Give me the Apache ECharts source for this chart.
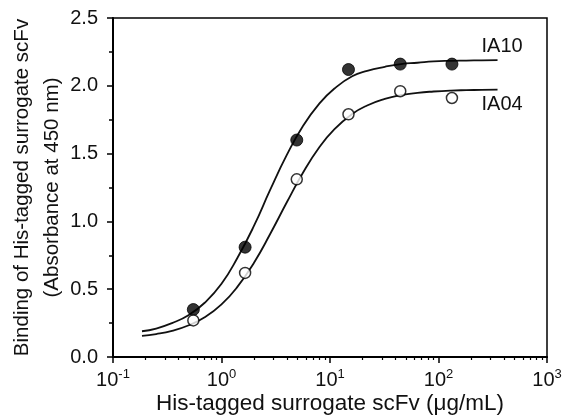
<!DOCTYPE html>
<html>
<head>
<meta charset="utf-8">
<script src="https://cdn.jsdelivr.net/npm/echarts@6/dist/echarts.min.js"></script>
<style>html,body{margin:0;padding:0;background:#fff}#c{width:571px;height:416px}</style>
</head>
<body>
<div id="c"></div>
<script>
// Measured points
const doseX = [0.55, 1.65, 4.94, 14.8, 44.4, 133];
const ia10Values = [0.35, 0.81, 1.60, 2.12, 2.16, 2.16];
const ia04Values = [0.27, 0.62, 1.31, 1.79, 1.96, 1.91];
// Fitted curves
const curveX = [0.185, 0.25, 0.35, 0.5, 0.7, 1.0, 1.4, 2.0, 2.8, 4.0, 5.6, 8, 11, 16, 22, 32, 45, 64, 90, 130, 180, 250, 350];
const ia10Curve = [0.19, 0.21, 0.25, 0.31, 0.40, 0.54, 0.73, 0.97, 1.23, 1.49, 1.70, 1.87, 1.98, 2.07, 2.11, 2.14, 2.16, 2.17, 2.18, 2.184, 2.186, 2.188, 2.19];
const ia04Curve = [0.156, 0.169, 0.193, 0.234, 0.293, 0.388, 0.517, 0.697, 0.905, 1.141, 1.355, 1.548, 1.680, 1.792, 1.855, 1.903, 1.931, 1.948, 1.958, 1.965, 1.968, 1.970, 1.972];
// Axis ticks
const xMajor = [0.1, 1, 10, 100, 1000];
const xMinor = [0.2,0.3,0.4,0.5,0.6,0.7,0.8,0.9, 2,3,4,5,6,7,8,9, 20,30,40,50,60,70,80,90, 200,300,400,500,600,700,800,900];
const seriesNames = ['IA10', 'IA04'];

const FONT = 'Liberation Sans, Arial, sans-serif';
const pair = (xs, ys) => xs.map((x, i) => [x, ys[i]]);
const expLabel = v => {
  const e = Math.round(Math.log10(v));
  return '{b|10}{s|' + e + '}';
};

const chart = echarts.init(document.getElementById('c'), null, {renderer: 'canvas'});
chart.setOption({
  animation: false,
  backgroundColor: '#fff',
  grid: {left: 113, right: 24, top: 18, bottom: 59, containLabel: false, outerBoundsMode: 'none',
    show: true, borderColor: '#000', borderWidth: 1.5, backgroundColor: 'transparent'},
  xAxis: [{
    type: 'log', logBase: 10, min: 0.1, max: 1000,
    name: 'His-tagged surrogate scFv (μg/mL)', nameLocation: 'middle', nameGap: 35, nameMoveOverlap: false,
    nameTextStyle: {fontFamily: FONT, fontSize: 22.5, color: '#111'},
    axisLine: {lineStyle: {color: '#000', width: 2}},
    axisTick: {show: true, length: 6, inside: false, lineStyle: {color: '#000', width: 1.5}, customValues: xMajor},
    axisLabel: {
      customValues: xMajor, formatter: expLabel, margin: 11, color: '#111',
      rich: {b: {fontFamily: FONT, fontSize: 20, color: '#111'}, s: {fontFamily: FONT, fontSize: 13, color: '#111', verticalAlign: 'bottom', padding: [0, 0, 11, 0]}}
    },
    splitLine: {show: false}
  }, {
    type: 'log', logBase: 10, min: 0.1, max: 1000, position: 'bottom',
    axisLine: {show: false},
    axisTick: {show: true, length: 3, lineStyle: {color: '#000', width: 1.2}, customValues: xMinor},
    axisLabel: {show: false},
    splitLine: {show: false}
  }],
  yAxis: {
    type: 'value', min: 0, max: 2.5, interval: 0.5,
    name: 'Binding of His-tagged surrogate scFv\n(Absorbance at 450 nm)', nameLocation: 'middle', nameGap: 46, nameRotate: 90, nameMoveOverlap: false,
    nameTextStyle: {fontFamily: FONT, fontSize: 20.5, color: '#111', lineHeight: 30},
    axisLine: {show: true, lineStyle: {color: '#000', width: 2}},
    axisTick: {show: true, length: 6, lineStyle: {color: '#000', width: 1.5}},
    minorTick: {show: true, splitNumber: 2, length: 4, lineStyle: {color: '#000', width: 1.5}},
    axisLabel: {fontFamily: FONT, fontSize: 20, color: '#111', margin: 15, formatter: v => v.toFixed(1)},
    splitLine: {show: false}
  },
  series: [{
    name: seriesNames[0] + ' fit', type: 'line', xAxisIndex: 0, data: pair(curveX, ia10Curve), smooth: true, showSymbol: false,
    lineStyle: {color: '#111', width: 1.8},
    endLabel: {show: true, formatter: seriesNames[0], fontFamily: FONT, fontSize: 20, color: '#111', offset: [-24, -14]}
  }, {
    name: seriesNames[1] + ' fit', type: 'line', xAxisIndex: 0, data: pair(curveX, ia04Curve), smooth: true, showSymbol: false,
    lineStyle: {color: '#111', width: 1.8},
    endLabel: {show: true, formatter: seriesNames[1], fontFamily: FONT, fontSize: 20, color: '#111', offset: [-24, 15]}
  }, {
    name: seriesNames[0], type: 'scatter', xAxisIndex: 0, data: pair(doseX, ia10Values), symbol: 'circle', symbolSize: 12,
    itemStyle: {color: '#000', borderColor: '#000', borderWidth: 1}, z: 5
  }, {
    name: seriesNames[1], type: 'scatter', xAxisIndex: 0, data: pair(doseX, ia04Values), symbol: 'circle', symbolSize: 11,
    itemStyle: {color: '#fff', borderColor: '#000', borderWidth: 1.5}, z: 5
  }]
});
</script>
</body>
</html>
